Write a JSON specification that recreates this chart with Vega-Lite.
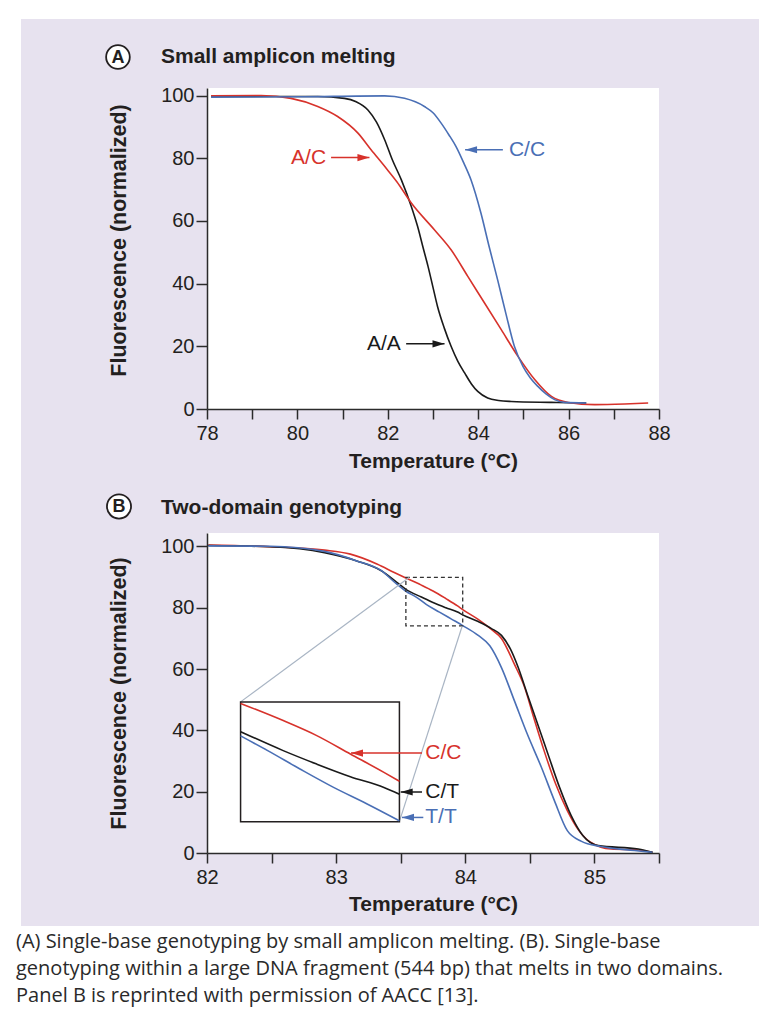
{
  "$schema": "https://vega.github.io/schema/vega-lite/v6.json",
  "background": "white",
  "padding": {"left": 15, "top": 19, "right": 0, "bottom": 0},
  "spacing": -4,
  "title": {
    "text": ["(A) Single-base genotyping by small amplicon melting. (B). Single-base", "genotyping within a large DNA fragment (544 bp) that melts in two domains.", "Panel B is reprinted with permission of AACC [13]."],
    "orient": "bottom", "anchor": "start", "frame": "bounds", "offset": 6, "dx": -5,
    "font": "Open Sans", "fontSize": 20, "fontWeight": "normal", "lineHeight": 27, "color": "#2a2a2a"
  },
  "config": {
    "font": "Liberation Sans",
    "view": {"stroke": null, "fill": null},
    "axis": {"zindex": 1, "grid": false, "domainColor": "#2b2b2b", "domainWidth": 1.5, "tickColor": "#2b2b2b", "tickWidth": 1.5,
      "labelFont": "Liberation Sans", "labelFontSize": 20, "labelColor": "#231f20",
      "titleFont": "Liberation Sans", "titleFontSize": 21, "titleFontWeight": "bold", "titleColor": "#231f20",
      "labelFlush": false, "labelOverlap": false, "labelBound": false},
    "text": {"font": "Liberation Sans"}
  },
  "resolve": {"scale": {"color": "independent", "shape": "independent"}},
  "datasets": {
    "a_curves": [
      {"geno": "A/A", "T": 78.09, "F": 99.7}, {"geno": "A/A", "T": 79.5, "F": 99.7}, {"geno": "A/A", "T": 80.45, "F": 99.7}, {"geno": "A/A", "T": 81.04, "F": 99.1}, {"geno": "A/A", "T": 81.3, "F": 98.0}, {"geno": "A/A", "T": 81.56, "F": 95.4}, {"geno": "A/A", "T": 81.75, "F": 91.5}, {"geno": "A/A", "T": 81.93, "F": 85.9}, {"geno": "A/A", "T": 82.1, "F": 79.5}, {"geno": "A/A", "T": 82.3, "F": 73.1}, {"geno": "A/A", "T": 82.52, "F": 64.6}, {"geno": "A/A", "T": 82.66, "F": 58.2}, {"geno": "A/A", "T": 82.78, "F": 51.5}, {"geno": "A/A", "T": 82.89, "F": 45.5}, {"geno": "A/A", "T": 83.0, "F": 38.8}, {"geno": "A/A", "T": 83.1, "F": 32.7}, {"geno": "A/A", "T": 83.25, "F": 25.8}, {"geno": "A/A", "T": 83.4, "F": 20.0}, {"geno": "A/A", "T": 83.55, "F": 15.2}, {"geno": "A/A", "T": 83.7, "F": 11.5}, {"geno": "A/A", "T": 83.85, "F": 8.0}, {"geno": "A/A", "T": 83.99, "F": 5.6}, {"geno": "A/A", "T": 84.21, "F": 3.5}, {"geno": "A/A", "T": 84.45, "F": 2.7}, {"geno": "A/A", "T": 84.73, "F": 2.4}, {"geno": "A/A", "T": 85.62, "F": 2.1}, {"geno": "A/A", "T": 86.39, "F": 1.9},
      {"geno": "A/C", "T": 78.09, "F": 99.9}, {"geno": "A/C", "T": 79.2, "F": 100.0}, {"geno": "A/C", "T": 79.86, "F": 99.1}, {"geno": "A/C", "T": 80.45, "F": 96.5}, {"geno": "A/C", "T": 80.89, "F": 93.3}, {"geno": "A/C", "T": 81.34, "F": 88.0}, {"geno": "A/C", "T": 81.63, "F": 82.7}, {"geno": "A/C", "T": 81.93, "F": 77.4}, {"geno": "A/C", "T": 82.2, "F": 72.5}, {"geno": "A/C", "T": 82.52, "F": 65.7}, {"geno": "A/C", "T": 83.03, "F": 57.2}, {"geno": "A/C", "T": 83.4, "F": 50.8}, {"geno": "A/C", "T": 83.77, "F": 42.3}, {"geno": "A/C", "T": 84.14, "F": 33.8}, {"geno": "A/C", "T": 84.51, "F": 25.3}, {"geno": "A/C", "T": 84.88, "F": 16.8}, {"geno": "A/C", "T": 85.25, "F": 9.4}, {"geno": "A/C", "T": 85.62, "F": 4.0}, {"geno": "A/C", "T": 85.99, "F": 2.1}, {"geno": "A/C", "T": 86.58, "F": 1.4}, {"geno": "A/C", "T": 87.24, "F": 1.6}, {"geno": "A/C", "T": 87.76, "F": 1.9},
      {"geno": "C/C", "T": 78.09, "F": 99.5}, {"geno": "C/C", "T": 80.0, "F": 99.6}, {"geno": "C/C", "T": 81.93, "F": 99.9}, {"geno": "C/C", "T": 82.37, "F": 99.1}, {"geno": "C/C", "T": 82.81, "F": 96.5}, {"geno": "C/C", "T": 83.0, "F": 94.5}, {"geno": "C/C", "T": 83.18, "F": 91.2}, {"geno": "C/C", "T": 83.35, "F": 87.5}, {"geno": "C/C", "T": 83.51, "F": 83.7}, {"geno": "C/C", "T": 83.68, "F": 78.5}, {"geno": "C/C", "T": 83.84, "F": 73.1}, {"geno": "C/C", "T": 84.06, "F": 62.5}, {"geno": "C/C", "T": 84.24, "F": 51.9}, {"geno": "C/C", "T": 84.43, "F": 41.2}, {"geno": "C/C", "T": 84.61, "F": 30.6}, {"geno": "C/C", "T": 84.8, "F": 20.0}, {"geno": "C/C", "T": 84.99, "F": 13.6}, {"geno": "C/C", "T": 85.15, "F": 10.0}, {"geno": "C/C", "T": 85.32, "F": 7.2}, {"geno": "C/C", "T": 85.5, "F": 4.8}, {"geno": "C/C", "T": 85.69, "F": 3.0}, {"geno": "C/C", "T": 85.91, "F": 2.1}, {"geno": "C/C", "T": 86.39, "F": 1.9}
    ],
    "a_labels": [
      {"geno": "A/C", "T": 79.86, "F": 80.2},
      {"geno": "C/C", "T": 84.68, "F": 82.7},
      {"geno": "A/A", "T": 81.54, "F": 20.8}
    ],
    "a_arrows": [
      {"geno": "A/C", "T1": 80.745, "T2": 81.594, "F": 80.2, "dir": "right"},
      {"geno": "C/C", "T1": 84.546, "T2": 83.71, "F": 82.7, "dir": "left"},
      {"geno": "A/A", "T1": 82.406, "T2": 83.255, "F": 20.8, "dir": "right"}
    ],
    "b_curves": [
      {"geno": "C/C", "curve": "main C/C", "T": 82.01, "F": 100.5}, {"geno": "C/C", "curve": "main C/C", "T": 82.49, "F": 99.9}, {"geno": "C/C", "curve": "main C/C", "T": 82.91, "F": 98.8}, {"geno": "C/C", "curve": "main C/C", "T": 83.11, "F": 97.5}, {"geno": "C/C", "curve": "main C/C", "T": 83.32, "F": 94.2}, {"geno": "C/C", "curve": "main C/C", "T": 83.45, "F": 91.5}, {"geno": "C/C", "curve": "main C/C", "T": 83.54, "F": 89.7}, {"geno": "C/C", "curve": "main C/C", "T": 83.66, "F": 87.4}, {"geno": "C/C", "curve": "main C/C", "T": 83.75, "F": 85.5}, {"geno": "C/C", "curve": "main C/C", "T": 83.85, "F": 83.0}, {"geno": "C/C", "curve": "main C/C", "T": 83.94, "F": 80.6}, {"geno": "C/C", "curve": "main C/C", "T": 83.98, "F": 79.4}, {"geno": "C/C", "curve": "main C/C", "T": 84.1, "F": 76.2}, {"geno": "C/C", "curve": "main C/C", "T": 84.2, "F": 73.0}, {"geno": "C/C", "curve": "main C/C", "T": 84.28, "F": 70.0}, {"geno": "C/C", "curve": "main C/C", "T": 84.38, "F": 61.6}, {"geno": "C/C", "curve": "main C/C", "T": 84.46, "F": 54.0}, {"geno": "C/C", "curve": "main C/C", "T": 84.53, "F": 44.2}, {"geno": "C/C", "curve": "main C/C", "T": 84.61, "F": 33.4}, {"geno": "C/C", "curve": "main C/C", "T": 84.7, "F": 22.5}, {"geno": "C/C", "curve": "main C/C", "T": 84.79, "F": 13.8}, {"geno": "C/C", "curve": "main C/C", "T": 84.88, "F": 7.3}, {"geno": "C/C", "curve": "main C/C", "T": 84.97, "F": 3.5}, {"geno": "C/C", "curve": "main C/C", "T": 85.13, "F": 1.3}, {"geno": "C/C", "curve": "main C/C", "T": 85.34, "F": 1.0}, {"geno": "C/C", "curve": "main C/C", "T": 85.45, "F": 0.2},
      {"geno": "C/T", "curve": "main C/T", "T": 82.01, "F": 100.3}, {"geno": "C/T", "curve": "main C/T", "T": 82.49, "F": 99.9}, {"geno": "C/T", "curve": "main C/T", "T": 82.91, "F": 98.0}, {"geno": "C/T", "curve": "main C/T", "T": 83.16, "F": 95.3}, {"geno": "C/T", "curve": "main C/T", "T": 83.35, "F": 92.1}, {"geno": "C/T", "curve": "main C/T", "T": 83.47, "F": 88.3}, {"geno": "C/T", "curve": "main C/T", "T": 83.54, "F": 86.0}, {"geno": "C/T", "curve": "main C/T", "T": 83.66, "F": 83.5}, {"geno": "C/T", "curve": "main C/T", "T": 83.75, "F": 81.7}, {"geno": "C/T", "curve": "main C/T", "T": 83.85, "F": 80.0}, {"geno": "C/T", "curve": "main C/T", "T": 83.94, "F": 78.6}, {"geno": "C/T", "curve": "main C/T", "T": 83.98, "F": 77.7}, {"geno": "C/T", "curve": "main C/T", "T": 84.1, "F": 75.5}, {"geno": "C/T", "curve": "main C/T", "T": 84.2, "F": 73.3}, {"geno": "C/T", "curve": "main C/T", "T": 84.28, "F": 71.0}, {"geno": "C/T", "curve": "main C/T", "T": 84.35, "F": 66.5}, {"geno": "C/T", "curve": "main C/T", "T": 84.41, "F": 60.5}, {"geno": "C/T", "curve": "main C/T", "T": 84.48, "F": 51.8}, {"geno": "C/T", "curve": "main C/T", "T": 84.56, "F": 42.1}, {"geno": "C/T", "curve": "main C/T", "T": 84.64, "F": 32.3}, {"geno": "C/T", "curve": "main C/T", "T": 84.73, "F": 21.4}, {"geno": "C/T", "curve": "main C/T", "T": 84.82, "F": 12.2}, {"geno": "C/T", "curve": "main C/T", "T": 84.91, "F": 5.7}, {"geno": "C/T", "curve": "main C/T", "T": 85.03, "F": 2.4}, {"geno": "C/T", "curve": "main C/T", "T": 85.34, "F": 1.3}, {"geno": "C/T", "curve": "main C/T", "T": 85.45, "F": 0.2},
      {"geno": "T/T", "curve": "main T/T", "T": 82.01, "F": 100.2}, {"geno": "T/T", "curve": "main T/T", "T": 82.49, "F": 100.1}, {"geno": "T/T", "curve": "main T/T", "T": 82.91, "F": 98.4}, {"geno": "T/T", "curve": "main T/T", "T": 83.16, "F": 95.3}, {"geno": "T/T", "curve": "main T/T", "T": 83.35, "F": 92.1}, {"geno": "T/T", "curve": "main T/T", "T": 83.47, "F": 87.7}, {"geno": "T/T", "curve": "main T/T", "T": 83.54, "F": 85.4}, {"geno": "T/T", "curve": "main T/T", "T": 83.62, "F": 83.5}, {"geno": "T/T", "curve": "main T/T", "T": 83.7, "F": 81.05}, {"geno": "T/T", "curve": "main T/T", "T": 83.8, "F": 78.6}, {"geno": "T/T", "curve": "main T/T", "T": 83.89, "F": 76.4}, {"geno": "T/T", "curve": "main T/T", "T": 83.98, "F": 74.2}, {"geno": "T/T", "curve": "main T/T", "T": 84.1, "F": 71.0}, {"geno": "T/T", "curve": "main T/T", "T": 84.19, "F": 67.6}, {"geno": "T/T", "curve": "main T/T", "T": 84.28, "F": 60.5}, {"geno": "T/T", "curve": "main T/T", "T": 84.38, "F": 49.7}, {"geno": "T/T", "curve": "main T/T", "T": 84.48, "F": 38.8}, {"geno": "T/T", "curve": "main T/T", "T": 84.59, "F": 27.9}, {"geno": "T/T", "curve": "main T/T", "T": 84.69, "F": 17.1}, {"geno": "T/T", "curve": "main T/T", "T": 84.79, "F": 7.3}, {"geno": "T/T", "curve": "main T/T", "T": 84.9, "F": 3.8}, {"geno": "T/T", "curve": "main T/T", "T": 85.05, "F": 2.1}, {"geno": "T/T", "curve": "main T/T", "T": 85.31, "F": 0.8}, {"geno": "T/T", "curve": "main T/T", "T": 85.45, "F": 0.2}
    ],
    "b_inset": [
      {"geno": "C/C", "curve": "inset C/C", "T": 82.26, "F": 48.8}, {"geno": "C/C", "curve": "inset C/C", "T": 82.59, "F": 43.2}, {"geno": "C/C", "curve": "inset C/C", "T": 82.85, "F": 38.3}, {"geno": "C/C", "curve": "inset C/C", "T": 83.11, "F": 32.3}, {"geno": "C/C", "curve": "inset C/C", "T": 83.37, "F": 26.3}, {"geno": "C/C", "curve": "inset C/C", "T": 83.49, "F": 23.4},
      {"geno": "C/T", "curve": "inset C/T", "T": 82.26, "F": 39.6}, {"geno": "C/T", "curve": "inset C/T", "T": 82.59, "F": 33.4}, {"geno": "C/T", "curve": "inset C/T", "T": 82.85, "F": 29.0}, {"geno": "C/T", "curve": "inset C/T", "T": 83.11, "F": 24.9}, {"geno": "C/T", "curve": "inset C/T", "T": 83.37, "F": 21.4}, {"geno": "C/T", "curve": "inset C/T", "T": 83.49, "F": 19.2},
      {"geno": "T/T", "curve": "inset T/T", "T": 82.26, "F": 38.2}, {"geno": "T/T", "curve": "inset T/T", "T": 82.47, "F": 33.4}, {"geno": "T/T", "curve": "inset T/T", "T": 82.72, "F": 27.4}, {"geno": "T/T", "curve": "inset T/T", "T": 82.98, "F": 21.4}, {"geno": "T/T", "curve": "inset T/T", "T": 83.24, "F": 16.0}, {"geno": "T/T", "curve": "inset T/T", "T": 83.49, "F": 10.5}
    ],
    "b_connectors": [
      {"link": "upper", "T": 82.26, "F": 49.3}, {"link": "upper", "T": 83.565, "F": 89.9},
      {"link": "lower", "T": 83.49, "F": 10.3}, {"link": "lower", "T": 83.975, "F": 73.9}
    ],
    "b_labels": [
      {"geno": "C/C", "T": 83.69, "F": 32.6},
      {"geno": "C/T", "T": 83.69, "F": 19.9},
      {"geno": "T/T", "T": 83.69, "F": 11.6}
    ],
    "b_arrows": [
      {"geno": "C/C", "T1": 83.665, "T2": 83.115, "F": 32.6, "dir": "left"},
      {"geno": "C/T", "T1": 83.665, "T2": 83.5, "F": 19.9, "dir": "left"},
      {"geno": "T/T", "T1": 83.675, "T2": 83.51, "F": 11.6, "dir": "left"}
    ]
  },
  "vconcat": [
    {
      "width": 452,
      "height": 321,
      "layer": [
        {"data": {"values": [{}]}, "mark": {"type": "rect", "fill": "#e7e2ef"},
         "encoding": {"x": {"datum": 73.885}, "x2": {"datum": 90.234}, "y": {"datum": 124.41}, "y2": {"datum": -23.29}}},
        {"data": {"values": [{}]}, "mark": {"type": "rect", "fill": "white"},
         "encoding": {"x": {"datum": 78}, "x2": {"datum": 88}, "y": {"datum": 102.4}, "y2": {"datum": 0}}},
        {"data": {"name": "a_curves"}, "mark": {"type": "line", "strokeWidth": 1.6, "interpolate": "monotone"},
         "encoding": {
           "x": {"field": "T", "type": "quantitative", "scale": {"domain": [78, 88], "nice": false, "zero": false},
                 "axis": {"zindex": 2, "title": "Temperature (°C)", "values": [78, 79, 80, 81, 82, 83, 84, 85, 86, 87, 88], "labelExpr": "datum.value % 2 === 0 ? datum.label : ''", "tickSize": 10, "labelPadding": 4, "titlePadding": 7}},
           "y": {"field": "F", "type": "quantitative", "scale": {"domain": [0, 102.4], "nice": false, "zero": false},
                 "axis": {"zindex": 2, "title": "Fluorescence (normalized)", "values": [0, 20, 40, 60, 80, 100], "tickSize": 11, "labelPadding": 2, "titlePadding": 30, "titleFontSize": 21.5, "titleY": 152}},
           "color": {"field": "geno", "type": "nominal", "scale": {"domain": ["A/A", "A/C", "C/C"], "range": ["#1a1a1a", "#d7322b", "#4a6fb5"]}, "legend": null}
         }},
        {"data": {"name": "a_arrows"}, "mark": {"type": "rule", "strokeWidth": 1.5},
         "encoding": {"x": {"field": "T1", "type": "quantitative"}, "x2": {"field": "T2"}, "y": {"field": "F", "type": "quantitative"},
           "color": {"field": "geno", "type": "nominal", "legend": null}}},
        {"data": {"name": "a_arrows"}, "mark": {"type": "point", "filled": true, "opacity": 1, "size": 576},
         "encoding": {"x": {"field": "T2", "type": "quantitative"}, "y": {"field": "F", "type": "quantitative"},
           "shape": {"field": "dir", "type": "nominal", "scale": {"domain": ["left", "right"], "range": ["M0,0L1,-0.3L1,0.3Z", "M0,0L-1,-0.3L-1,0.3Z"]}, "legend": null},
           "color": {"field": "geno", "type": "nominal", "legend": null}}},
        {"data": {"name": "a_labels"}, "mark": {"type": "text", "align": "left", "baseline": "middle", "fontSize": 21},
         "encoding": {"x": {"field": "T", "type": "quantitative"}, "y": {"field": "F", "type": "quantitative"}, "text": {"field": "geno"},
           "color": {"field": "geno", "type": "nominal", "legend": null}}},
        {"data": {"values": [{}]}, "mark": {"type": "point", "shape": "circle", "fill": "white", "stroke": "#231f20", "strokeWidth": 1.8, "size": 560, "opacity": 1},
         "encoding": {"x": {"datum": 76.03}, "y": {"datum": 112.29}}},
        {"data": {"values": [{}]}, "mark": {"type": "text", "align": "center", "baseline": "middle", "fontSize": 18, "fontWeight": "bold", "color": "#231f20", "dy": 1},
         "encoding": {"x": {"datum": 76.03}, "y": {"datum": 112.29}, "text": {"value": "A"}}},
        {"data": {"values": [{}]}, "mark": {"type": "text", "align": "left", "baseline": "alphabetic", "fontSize": 21, "fontWeight": "bold", "color": "#231f20"},
         "encoding": {"x": {"datum": 76.982}, "y": {"datum": 110.47}, "text": {"value": "Small amplicon melting"}}}
      ]
    },
    {
      "width": 452,
      "height": 320,
      "layer": [
        {"data": {"values": [{}]}, "mark": {"type": "rect", "fill": "#e7e2ef"},
         "encoding": {"x": {"datum": 80.5597}, "x2": {"datum": 86.282}, "y": {"datum": 121.82}, "y2": {"datum": -23.82}}},
        {"data": {"values": [{}]}, "mark": {"type": "rect", "fill": "white"},
         "encoding": {"x": {"datum": 82}, "x2": {"datum": 85.5}, "y": {"datum": 104.4}, "y2": {"datum": 0}}},
        {"data": {"name": "b_curves"}, "mark": {"type": "line", "strokeWidth": 1.6, "interpolate": "monotone"},
         "encoding": {
           "x": {"field": "T", "type": "quantitative", "scale": {"domain": [82, 85.5], "nice": false, "zero": false},
                 "axis": {"zindex": 2, "title": "Temperature (°C)", "values": [82, 82.5, 83, 83.5, 84, 84.5, 85, 85.5], "format": ".0f", "labelExpr": "datum.value % 1 === 0 ? datum.label : ''", "tickSize": 10, "labelPadding": 4, "titlePadding": 6}},
           "y": {"field": "F", "type": "quantitative", "scale": {"domain": [0, 104.4], "nice": false, "zero": false},
                 "axis": {"zindex": 2, "title": "Fluorescence (normalized)", "values": [0, 20, 40, 60, 80, 100], "tickSize": 11, "labelPadding": 2, "titlePadding": 30, "titleFontSize": 21.5}},
           "color": {"field": "geno", "type": "nominal", "scale": {"domain": ["C/C", "C/T", "T/T"], "range": ["#d7322b", "#1a1a1a", "#4a6fb5"]}, "legend": null},
           "detail": {"field": "curve"}
         }},
        {"data": {"values": [{}]}, "mark": {"type": "rect", "filled": false, "stroke": "#333333", "strokeWidth": 1.3, "strokeDash": [4, 3]},
         "encoding": {"x": {"datum": 83.54}, "x2": {"datum": 83.98}, "y": {"datum": 89.9}, "y2": {"datum": 74.1}}},
        {"data": {"name": "b_connectors"}, "mark": {"type": "line", "stroke": "#a9b5c4", "strokeWidth": 1.2},
         "encoding": {"x": {"field": "T", "type": "quantitative"}, "y": {"field": "F", "type": "quantitative"}, "detail": {"field": "link"}}},
        {"data": {"values": [{}]}, "mark": {"type": "rect", "fill": "white", "stroke": "#231f20", "strokeWidth": 1.5},
         "encoding": {"x": {"datum": 82.26}, "x2": {"datum": 83.49}, "y": {"datum": 49.3}, "y2": {"datum": 10.2}}},
        {"data": {"name": "b_inset"}, "mark": {"type": "line", "strokeWidth": 1.6, "interpolate": "monotone"},
         "encoding": {"x": {"field": "T", "type": "quantitative"}, "y": {"field": "F", "type": "quantitative"},
           "color": {"field": "geno", "type": "nominal", "legend": null}, "detail": {"field": "curve"}}},
        {"data": {"name": "b_arrows"}, "mark": {"type": "rule", "strokeWidth": 1.5},
         "encoding": {"x": {"field": "T1", "type": "quantitative"}, "x2": {"field": "T2"}, "y": {"field": "F", "type": "quantitative"},
           "color": {"field": "geno", "type": "nominal", "legend": null}}},
        {"data": {"name": "b_arrows"}, "mark": {"type": "point", "filled": true, "opacity": 1, "size": 576},
         "encoding": {"x": {"field": "T2", "type": "quantitative"}, "y": {"field": "F", "type": "quantitative"},
           "shape": {"field": "dir", "type": "nominal", "scale": {"domain": ["left", "right"], "range": ["M0,0L1,-0.3L1,0.3Z", "M0,0L-1,-0.3L-1,0.3Z"]}, "legend": null},
           "color": {"field": "geno", "type": "nominal", "legend": null}}},
        {"data": {"name": "b_labels"}, "mark": {"type": "text", "align": "left", "baseline": "middle", "fontSize": 21},
         "encoding": {"x": {"field": "T", "type": "quantitative"}, "y": {"field": "F", "type": "quantitative"}, "text": {"field": "geno"},
           "color": {"field": "geno", "type": "nominal", "legend": null}}},
        {"data": {"values": [{}]}, "mark": {"type": "point", "shape": "circle", "fill": "white", "stroke": "#231f20", "strokeWidth": 1.8, "size": 580, "opacity": 1},
         "encoding": {"x": {"datum": 81.3186}, "y": {"datum": 113.05}}},
        {"data": {"values": [{}]}, "mark": {"type": "text", "align": "center", "baseline": "middle", "fontSize": 18, "fontWeight": "bold", "color": "#231f20", "dy": 1},
         "encoding": {"x": {"datum": 81.3186}, "y": {"datum": 113.05}, "text": {"value": "B"}}},
        {"data": {"values": [{}]}, "mark": {"type": "text", "align": "left", "baseline": "alphabetic", "fontSize": 21, "fontWeight": "bold", "color": "#231f20"},
         "encoding": {"x": {"datum": 81.6438}, "y": {"datum": 110.5}, "text": {"value": "Two-domain genotyping"}}}
      ]
    }
  ]
}
